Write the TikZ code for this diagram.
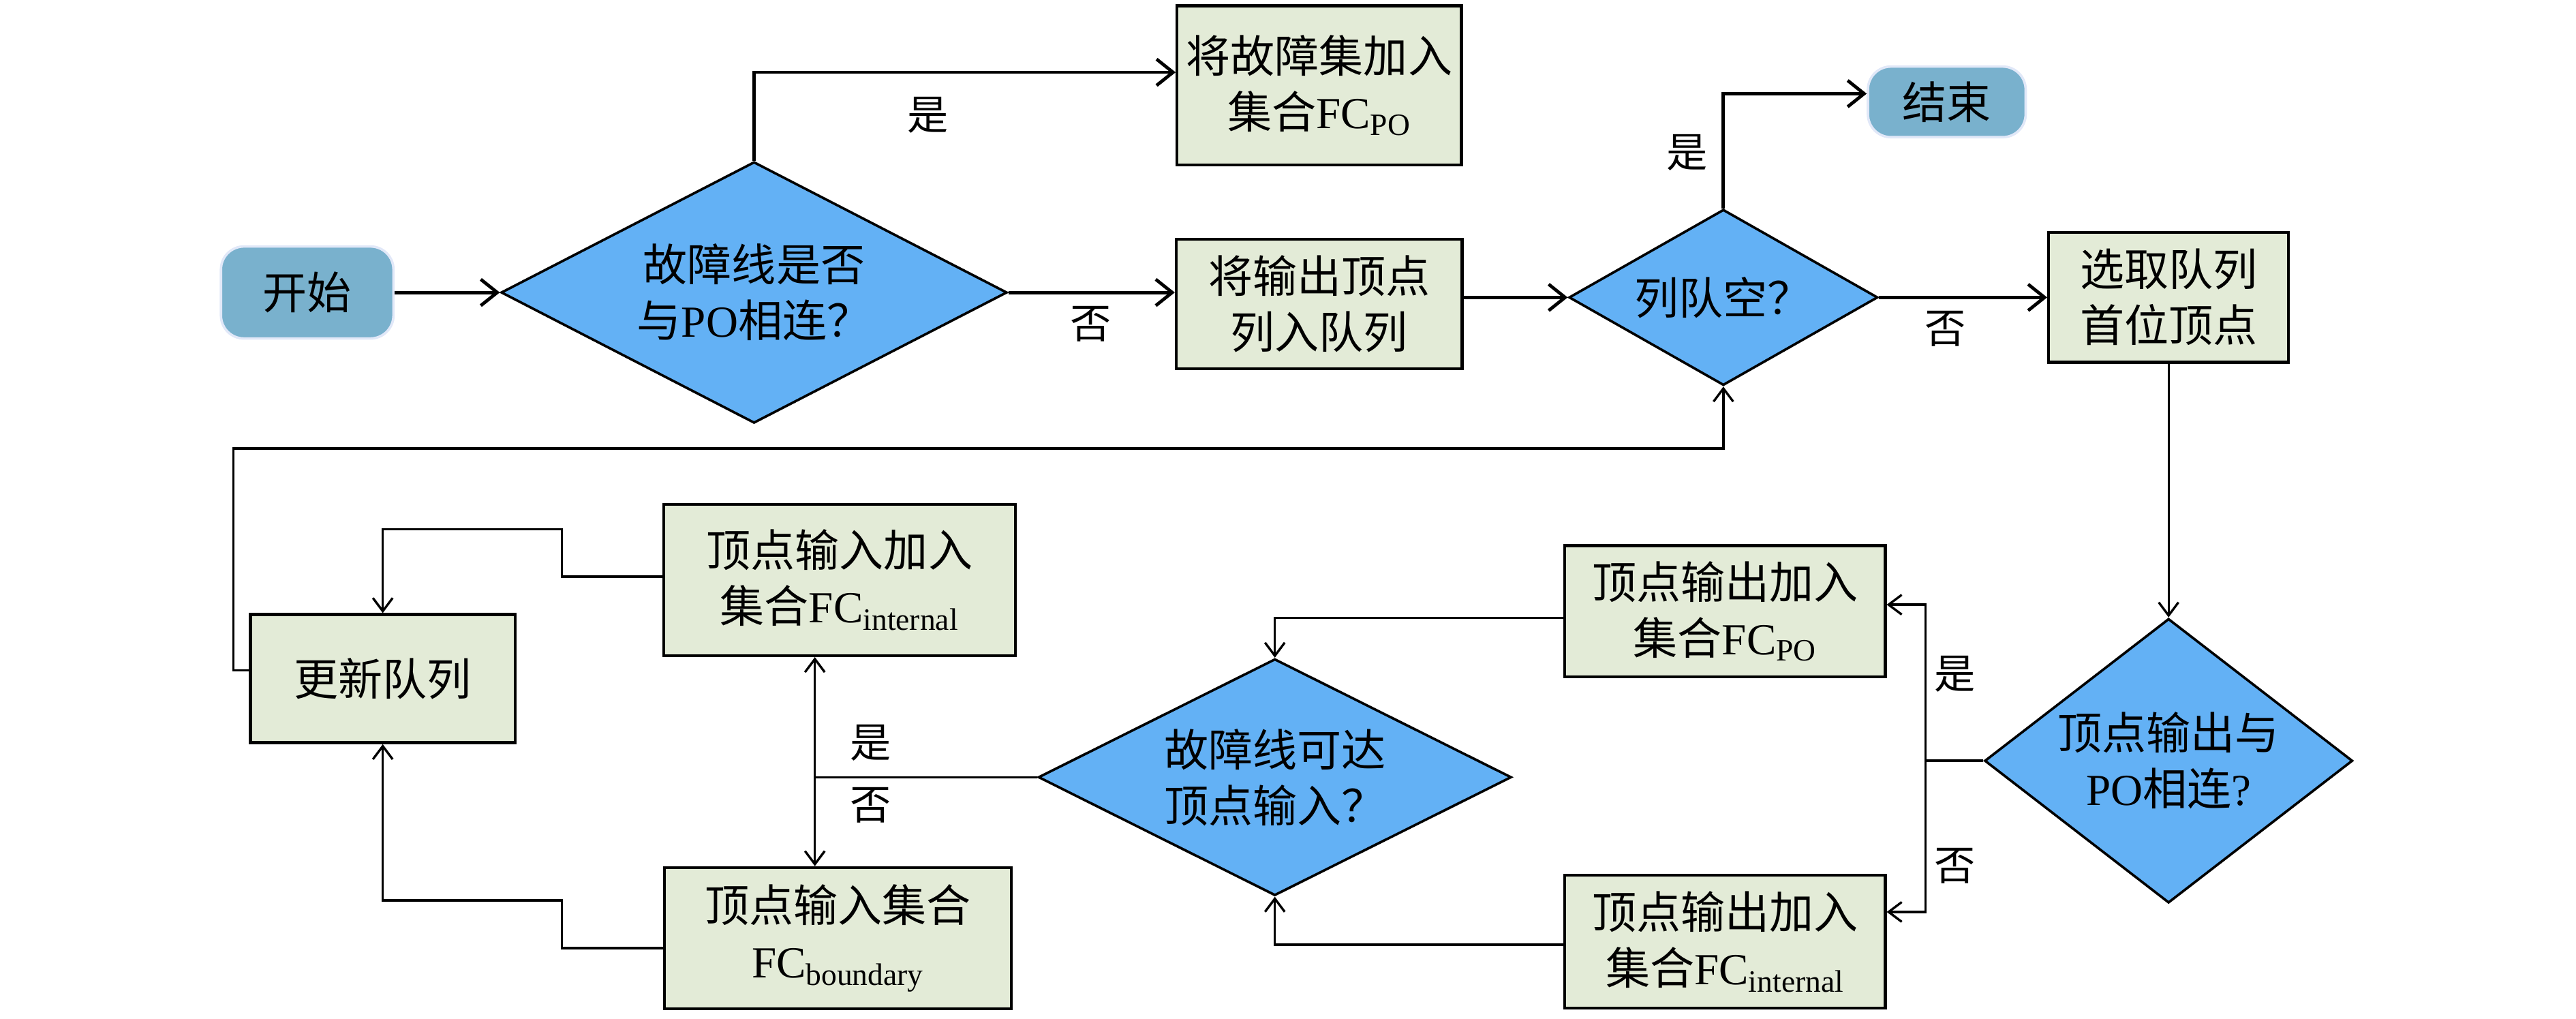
\documentclass[tikz,border=0pt]{standalone}
\usepackage{fontspec}
\setmainfont{Liberation Serif}
\newfontfamily\cjk{Noto Sans CJK SC}
\usetikzlibrary{shapes.geometric,arrows.meta}
\definecolor{boxfill}{RGB}{227,235,215}
\definecolor{diafill}{RGB}{99,177,245}
\definecolor{termfill}{RGB}{121,177,205}
\definecolor{termline}{RGB}{225,232,248}
\newcommand{\zh}[1]{{\cjk #1}}
\begin{document}
\begin{tikzpicture}[x=1pt,y=-1pt,
  every node/.style={font=\fontsize{27}{34}\selectfont, align=center, inner sep=0pt},
  proc/.style={draw, line width=1.8pt, fill=boxfill},
  dec/.style={diamond, draw, line width=1.5pt, fill=diafill},
  term/.style={draw=termline, line width=1.5pt, fill=termfill, rounded corners=14pt},
  conn/.style={line width=1.4pt, -{Straight Barb[length=8pt,width=12pt]}},
  bconn/.style={line width=2pt, -{Straight Barb[length=10pt,width=16pt]}},
  plain/.style={line width=1.4pt},
  lab/.style={font=\fontsize{25}{30}\selectfont}
]
\useasboundingbox (0,0) rectangle (1568,620);

\node[term, minimum width=105pt, minimum height=56pt] (start) at (187,178) {\zh{开始}};
\node[dec, aspect=1.94, minimum width=308pt, minimum height=159pt] (d1) at (459,178) {\zh{故障线是否}\\\zh{与}PO\zh{相连？}};
\node[proc, minimum width=173pt, minimum height=97pt] (b1) at (803,52) {\zh{将故障集加入}\\\zh{集合}FC\textsubscript{PO}};
\node[proc, minimum width=174pt, minimum height=79pt] (b2) at (803,185) {\zh{将输出顶点}\\\zh{列入队列}};
\node[dec, aspect=1.76, minimum width=188pt, minimum height=107pt] (d2) at (1049,181) {\zh{列队空？}};
\node[term, minimum width=96pt, minimum height=43pt] (end) at (1185,62) {\zh{结束}};
\node[proc, minimum width=146pt, minimum height=79pt] (b3) at (1320,181) {\zh{选取队列}\\\zh{首位顶点}};
\node[dec, aspect=1.29, minimum width=224pt, minimum height=173pt] (d3) at (1320,463) {\zh{顶点输出与}\\PO\zh{相连}?};
\node[proc, minimum width=195pt, minimum height=80pt] (b4) at (1050,372) {\zh{顶点输出加入}\\\zh{集合}FC\textsubscript{PO}};
\node[proc, minimum width=195pt, minimum height=81pt] (b5) at (1050,573) {\zh{顶点输出加入}\\\zh{集合}FC\textsubscript{internal}};
\node[dec, aspect=2, minimum width=288pt, minimum height=144pt] (d4) at (776,473) {\zh{故障线可达}\\\zh{顶点输入？}};
\node[proc, minimum width=214pt, minimum height=92pt] (b6) at (511,353) {\zh{顶点输入加入}\\\zh{集合}FC\textsubscript{internal}};
\node[proc, minimum width=211pt, minimum height=86pt] (b7) at (510,571) {\zh{顶点输入集合}\\FC\textsubscript{boundary}};
\node[proc, minimum width=161pt, minimum height=78pt] (b8) at (233,413) {\zh{更新队列}};

% top row
\draw[bconn] (start) -- (d1);
\draw[bconn] (d1.north) |- ([yshift=8pt]b1.west);
\node[lab] (l1) at (565,70) {\zh{是}};
\draw[bconn] (d1.east) -- (d1.east -| b2.west);
\node[lab] (l2) at (664,197) {\zh{否}};
\draw[bconn] (b2.east |- d2.west) -- (d2.west);
\draw[bconn] (d2.north) |- ([yshift=5pt]end.west);
\node[lab] (l3) at (1027,93) {\zh{是}};
\draw[bconn] (d2.east) -- (d2.east -| b3.west);
\node[lab] (l4) at (1184,200) {\zh{否}};

% right side
\draw[conn] (b3.south) -- (d3.north);
\coordinate (j1) at (1172,463);
\draw[plain] (d3.west) -- (j1);
\draw[conn] (j1) |- ([yshift=4pt]b4.east);
\draw[conn] (j1) |- ([yshift=18pt]b5.east);
\node[lab] (l5) at (1190,410) {\zh{是}};
\node[lab] (l6) at (1190,527) {\zh{否}};

% into d4
\draw[conn] ([yshift=-4pt]b4.west) -| (d4.north);
\draw[conn] ([yshift=-2pt]b5.west) -| (d4.south);

% d4 left
\coordinate (j2) at (496,473);
\draw[plain] (d4.west) -- (j2);
\draw[conn] (j2) -- (j2 |- b6.south);
\draw[conn] (j2) -- (j2 |- b7.north);
\node[lab] (l7) at (530,452) {\zh{是}};
\node[lab] (l8) at (530,490) {\zh{否}};

% to update queue
\coordinate (c1) at (342,322);
\coordinate (c2) at (342,548);
\coordinate (c3) at (142,273);
\draw[conn] ([yshift=2pt]b6.west) -| (c1) -| (b8.north);
\draw[conn] ([yshift=-6pt]b7.west) -| (c2) -| (b8.south);
\draw[conn] ([yshift=5pt]b8.west) -| (c3) -| (d2.south);
\end{tikzpicture}
\end{document}
